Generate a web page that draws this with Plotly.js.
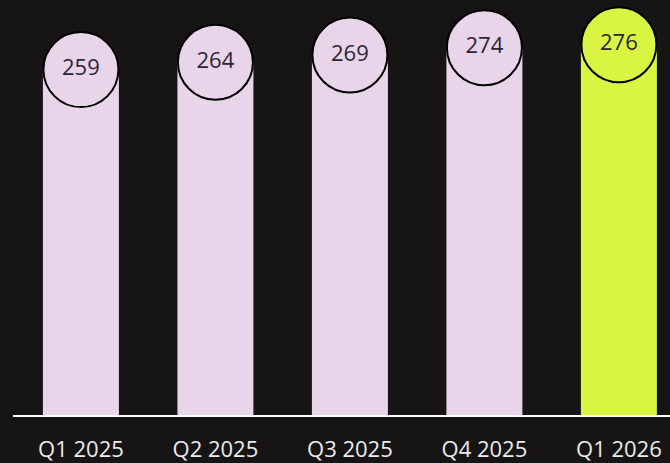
<!DOCTYPE html>
<html><head><meta charset="utf-8">
<script src="https://cdn.plot.ly/plotly-3.0.1.min.js"></script>
<style>html,body{margin:0;padding:0;background:#161415;}#chart{width:670px;height:463px;}</style>
</head><body><div id="chart"></div>
<script>
const categories = ["Q1 2025", "Q2 2025", "Q3 2025", "Q4 2025", "Q1 2026"];
const values = [259, 264, 269, 274, 276];
const barColors = ["#e8d5ea", "#e8d5ea", "#e8d5ea", "#e8d5ea", "#d9f542"];

const bars = {
  type: "bar", x: categories, y: values,
  marker: {color: barColors, line: {width: 0}},
  width: 0.565, hoverinfo: "skip"
};
const circles = {
  type: "scatter", mode: "markers+text", x: categories, y: values,
  text: values.map(String), textposition: "middle center",
  textfont: {family: "Open Sans", size: 22, color: "#2b2630"},
  marker: {size: 75, color: barColors, line: {color: "#000000", width: 2}},
  cliponaxis: false, hoverinfo: "skip"
};
const layout = {
  width: 670, height: 463,
  margin: {l: 13, r: 0, t: 0, b: 48},
  paper_bgcolor: "#161415", plot_bgcolor: "#161415",
  showlegend: false,
  xaxis: {
    type: "category", range: [-0.505, 4.38],
    showline: true, linecolor: "#ffffff", linewidth: 2,
    showgrid: false, zeroline: false, ticks: "",
    ticklabelstandoff: 14,
    tickfont: {family: "Open Sans", size: 22, color: "#ececec"}
  },
  yaxis: {range: [22.3, 306.7], visible: false, showgrid: false, zeroline: false},
  font: {family: "Open Sans"}
};
Plotly.newPlot("chart", [bars, circles], layout, {staticPlot: true, displayModeBar: false});
</script></body></html>
